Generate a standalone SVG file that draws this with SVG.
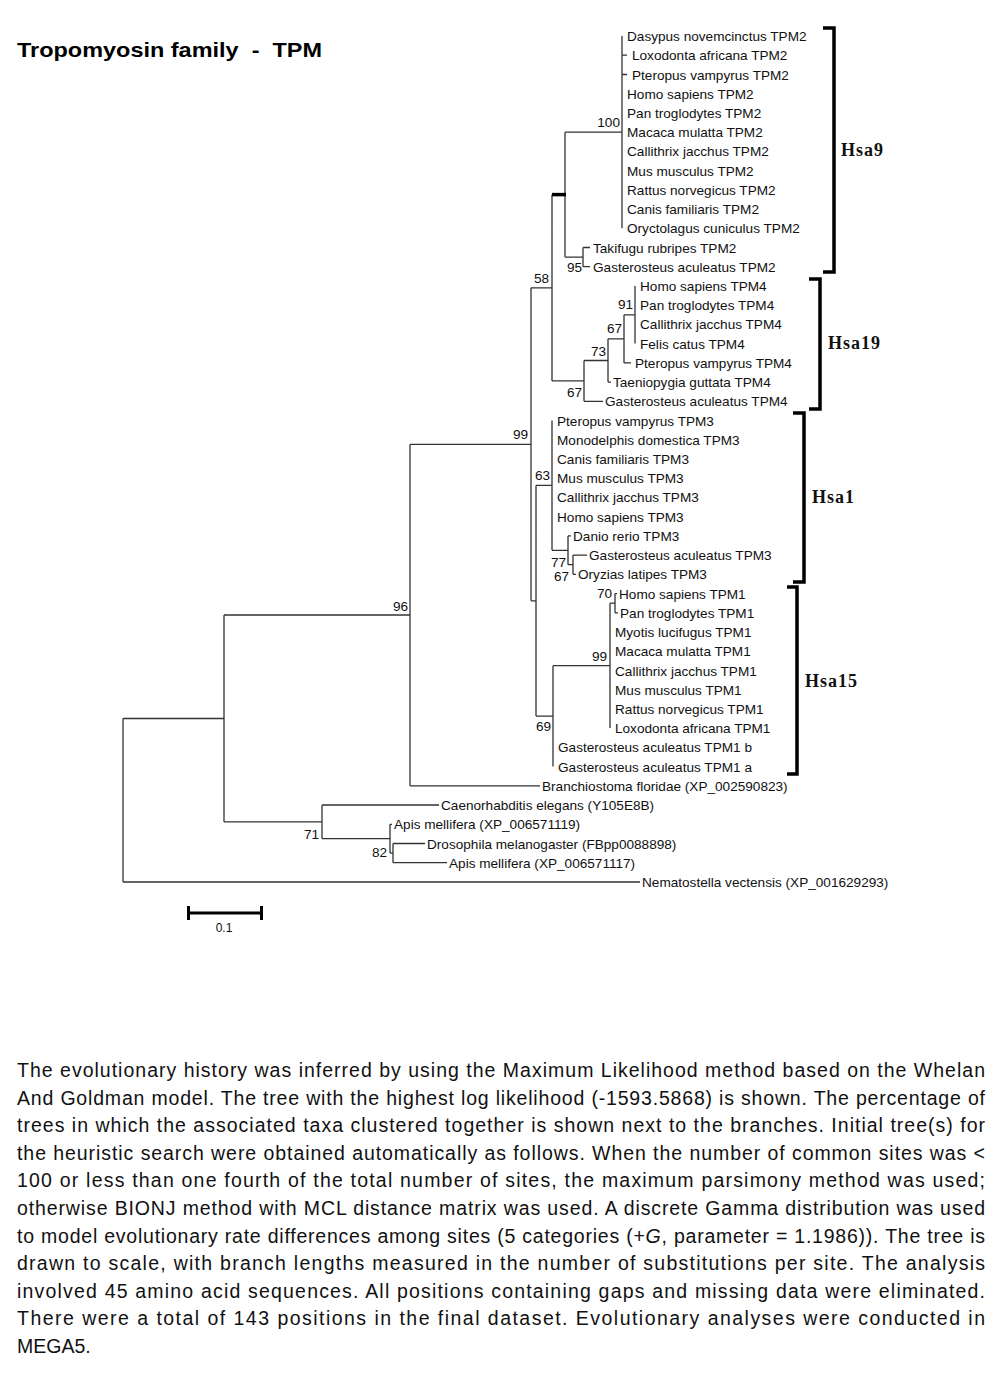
<svg xmlns="http://www.w3.org/2000/svg" width="1002" height="1374" viewBox="0 0 1002 1374">
<style>
.leaf{font-family:"Liberation Sans",Arial,sans-serif;font-size:13.6px;fill:#111}
.bs{font-family:"Liberation Sans",Arial,sans-serif;font-size:13.6px;fill:#111;text-anchor:end}
.br{fill:none;stroke:#333;stroke-width:1.3}
.brk{fill:none;stroke:#000;stroke-width:3.5}
.hsa{font-family:"Liberation Serif","Times New Roman",serif;font-weight:bold;font-size:18px;letter-spacing:1px;fill:#111}
.para{font-family:"Liberation Sans",Arial,sans-serif;font-size:19.5px;fill:#111}
</style>
<rect width="1002" height="1374" fill="#fff"/>
<g id="title"><text x="17" y="57" style="font-family:'Liberation Sans',Arial,sans-serif;font-weight:bold;font-size:20.5px;white-space:pre" textLength="305" lengthAdjust="spacingAndGlyphs" xml:space="preserve">Tropomyosin family  -  TPM</text></g>
<g id="connectors">
<path class="br" d="M622 36V228.3M622 55.2H627M622 74.5H627M565 132.2H622M583 247.5V266.7M583 247.5H590M583 266.7H590M565 257.1H583M565 132.2V257.1M552 194.6V380.9"/>
<path d="M552 194.6H566" stroke="#000" stroke-width="3.5" fill="none"/>
<path class="br" d="M635 285.9V343.6M624 314.8H635M624 314.8V362.9M624 362.9H631M608 338.8H624M608 338.8V382.1M608 382.1H611M584 360.5H608M584 360.5V401.3M584 401.3H603M552 380.9H584M531 287.8H552M531 287.8V600.8"/>
<path class="br" d="M552 420.5V550.3M573 555.1V574.3M573 555.1H587M573 574.3H576M568 564.7H573M568 535.9V564.7M568 535.9H571M552 550.3H568M536 485.4H552M536 485.4V716.1"/>
<path class="br" d="M615 593.6V612.8M615 593.6H617M615 612.8H618M610 603.2H615M610 603.2V728.1M553 665.7H610M553 665.7V766.6M536 716.1H553M531 600.8H536M410 444.3H531M410 444.3V785.8M410 785.8H540"/>
<path class="br" d="M224 615H410M224 615V821.9M224 821.9H322M322 805V838.7M322 805H439M322 838.7H390M390 824.3V853.1M390 824.3H392M390 853.1H393M393 843.5V862.7M393 843.5H425M393 862.7H447M123 718.5H224M123 718.5V882M123 882H640"/>
</g>
<g id="bootstrap">
<text class="bs" x="620" y="127">100</text>
<text class="bs" x="582" y="272">95</text>
<text class="bs" x="549" y="283">58</text>
<text class="bs" x="633" y="309">91</text>
<text class="bs" x="622" y="333">67</text>
<text class="bs" x="606" y="356">73</text>
<text class="bs" x="582" y="397">67</text>
<text class="bs" x="528" y="439">99</text>
<text class="bs" x="550" y="480">63</text>
<text class="bs" x="566" y="567">77</text>
<text class="bs" x="569" y="581">67</text>
<text class="bs" x="612" y="598">70</text>
<text class="bs" x="607" y="661">99</text>
<text class="bs" x="551" y="731">69</text>
<text class="bs" x="408" y="611">96</text>
<text class="bs" x="319" y="839">71</text>
<text class="bs" x="387" y="857">82</text>
</g>
<g id="leaf1"><text class="leaf" x="627" y="41">Dasypus novemcinctus TPM2</text></g>
<g id="leaf2"><text class="leaf" x="632" y="60.2">Loxodonta africana TPM2</text></g>
<g id="leaf3"><text class="leaf" x="632" y="79.5">Pteropus vampyrus TPM2</text></g>
<g id="leaf4"><text class="leaf" x="627" y="98.7">Homo sapiens TPM2</text></g>
<g id="leaf5"><text class="leaf" x="627" y="117.9">Pan troglodytes TPM2</text></g>
<g id="leaf6"><text class="leaf" x="627" y="137.1">Macaca mulatta TPM2</text></g>
<g id="leaf7"><text class="leaf" x="627" y="156.4">Callithrix jacchus TPM2</text></g>
<g id="leaf8"><text class="leaf" x="627" y="175.6">Mus musculus TPM2</text></g>
<g id="leaf9"><text class="leaf" x="627" y="194.8">Rattus norvegicus TPM2</text></g>
<g id="leaf10"><text class="leaf" x="627" y="214">Canis familiaris TPM2</text></g>
<g id="leaf11"><text class="leaf" x="627" y="233.3">Oryctolagus cuniculus TPM2</text></g>
<g id="leaf12"><text class="leaf" x="593" y="252.5">Takifugu rubripes TPM2</text></g>
<g id="leaf13"><text class="leaf" x="593" y="271.7">Gasterosteus aculeatus TPM2</text></g>
<g id="leaf14"><text class="leaf" x="640" y="290.9">Homo sapiens TPM4</text></g>
<g id="leaf15"><text class="leaf" x="640" y="310.2">Pan troglodytes TPM4</text></g>
<g id="leaf16"><text class="leaf" x="640" y="329.4">Callithrix jacchus TPM4</text></g>
<g id="leaf17"><text class="leaf" x="640" y="348.6">Felis catus TPM4</text></g>
<g id="leaf18"><text class="leaf" x="635" y="367.9">Pteropus vampyrus TPM4</text></g>
<g id="leaf19"><text class="leaf" x="613" y="387.1">Taeniopygia guttata TPM4</text></g>
<g id="leaf20"><text class="leaf" x="605" y="406.3">Gasterosteus aculeatus TPM4</text></g>
<g id="leaf21"><text class="leaf" x="557" y="425.5">Pteropus vampyrus TPM3</text></g>
<g id="leaf22"><text class="leaf" x="557" y="444.8">Monodelphis domestica TPM3</text></g>
<g id="leaf23"><text class="leaf" x="557" y="464">Canis familiaris TPM3</text></g>
<g id="leaf24"><text class="leaf" x="557" y="483.2">Mus musculus TPM3</text></g>
<g id="leaf25"><text class="leaf" x="557" y="502.4">Callithrix jacchus TPM3</text></g>
<g id="leaf26"><text class="leaf" x="557" y="521.7">Homo sapiens TPM3</text></g>
<g id="leaf27"><text class="leaf" x="573" y="540.9">Danio rerio TPM3</text></g>
<g id="leaf28"><text class="leaf" x="589" y="560.1">Gasterosteus aculeatus TPM3</text></g>
<g id="leaf29"><text class="leaf" x="578" y="579.3">Oryzias latipes TPM3</text></g>
<g id="leaf30"><text class="leaf" x="619" y="598.6">Homo sapiens TPM1</text></g>
<g id="leaf31"><text class="leaf" x="620" y="617.8">Pan troglodytes TPM1</text></g>
<g id="leaf32"><text class="leaf" x="615" y="637">Myotis lucifugus TPM1</text></g>
<g id="leaf33"><text class="leaf" x="615" y="656.2">Macaca mulatta TPM1</text></g>
<g id="leaf34"><text class="leaf" x="615" y="675.5">Callithrix jacchus TPM1</text></g>
<g id="leaf35"><text class="leaf" x="615" y="694.7">Mus musculus TPM1</text></g>
<g id="leaf36"><text class="leaf" x="615" y="713.9">Rattus norvegicus TPM1</text></g>
<g id="leaf37"><text class="leaf" x="615" y="733.1">Loxodonta africana TPM1</text></g>
<g id="leaf38"><text class="leaf" x="558" y="752.4">Gasterosteus aculeatus TPM1 b</text></g>
<g id="leaf39"><text class="leaf" x="558" y="771.6">Gasterosteus aculeatus TPM1 a</text></g>
<g id="leaf40"><text class="leaf" x="542" y="790.8">Branchiostoma floridae (XP_002590823)</text></g>
<g id="leaf41"><text class="leaf" x="441" y="810">Caenorhabditis elegans (Y105E8B)</text></g>
<g id="leaf42"><text class="leaf" x="394" y="829.3">Apis mellifera (XP_006571119)</text></g>
<g id="leaf43"><text class="leaf" x="427" y="848.5">Drosophila melanogaster (FBpp0088898)</text></g>
<g id="leaf44"><text class="leaf" x="449" y="867.7">Apis mellifera (XP_006571117)</text></g>
<g id="leaf45"><text class="leaf" x="642" y="887">Nematostella vectensis (XP_001629293)</text></g>
<g id="brackets">
<path class="brk" d="M823 28H834V272H823"/>
<path class="brk" d="M809 279H820V409H809"/>
<path class="brk" d="M793 413H804V582H793"/>
<path class="brk" d="M787 587H797V774H787"/>
<text class="hsa" x="841" y="156">Hsa9</text>
<text class="hsa" x="828" y="349">Hsa19</text>
<text class="hsa" x="812" y="503">Hsa1</text>
<text class="hsa" x="805" y="687">Hsa15</text>
</g>
<g id="scalebar">
<path d="M187 913H263M188.5 906V920M261.5 906V920" stroke="#000" stroke-width="3" fill="none"/>
<text class="leaf" x="224" y="932" text-anchor="middle" style="font-size:12px">0.1</text>
</g>
<g id="caption">
<text class="para" x="17" y="1077" textLength="968" lengthAdjust="spacing">The evolutionary history was inferred by using the Maximum Likelihood method based on the Whelan</text>
<text class="para" x="17" y="1104.6" textLength="968" lengthAdjust="spacing">And Goldman model. The tree with the highest log likelihood (-1593.5868) is shown. The percentage of</text>
<text class="para" x="17" y="1132.2" textLength="968" lengthAdjust="spacing">trees in which the associated taxa clustered together is shown next to the branches. Initial tree(s) for</text>
<text class="para" x="17" y="1159.8" textLength="968" lengthAdjust="spacing">the heuristic search were obtained automatically as follows. When the number of common sites was &lt;</text>
<text class="para" x="17" y="1187.4" textLength="968" lengthAdjust="spacing">100 or less than one fourth of the total number of sites, the maximum parsimony method was used;</text>
<text class="para" x="17" y="1215" textLength="968" lengthAdjust="spacing">otherwise BIONJ method with MCL distance matrix was used. A discrete Gamma distribution was used</text>
<text class="para" x="17" y="1242.6" textLength="968" lengthAdjust="spacing">to model evolutionary rate differences among sites (5 categories (+<tspan font-style="italic">G</tspan>, parameter = 1.1986)). The tree is</text>
<text class="para" x="17" y="1270.2" textLength="968" lengthAdjust="spacing">drawn to scale, with branch lengths measured in the number of substitutions per site. The analysis</text>
<text class="para" x="17" y="1297.8" textLength="968" lengthAdjust="spacing">involved 45 amino acid sequences. All positions containing gaps and missing data were eliminated.</text>
<text class="para" x="17" y="1325.4" textLength="968" lengthAdjust="spacing">There were a total of 143 positions in the final dataset. Evolutionary analyses were conducted in</text>
<text class="para" x="17" y="1353">MEGA5.</text>
</g>
</svg>
